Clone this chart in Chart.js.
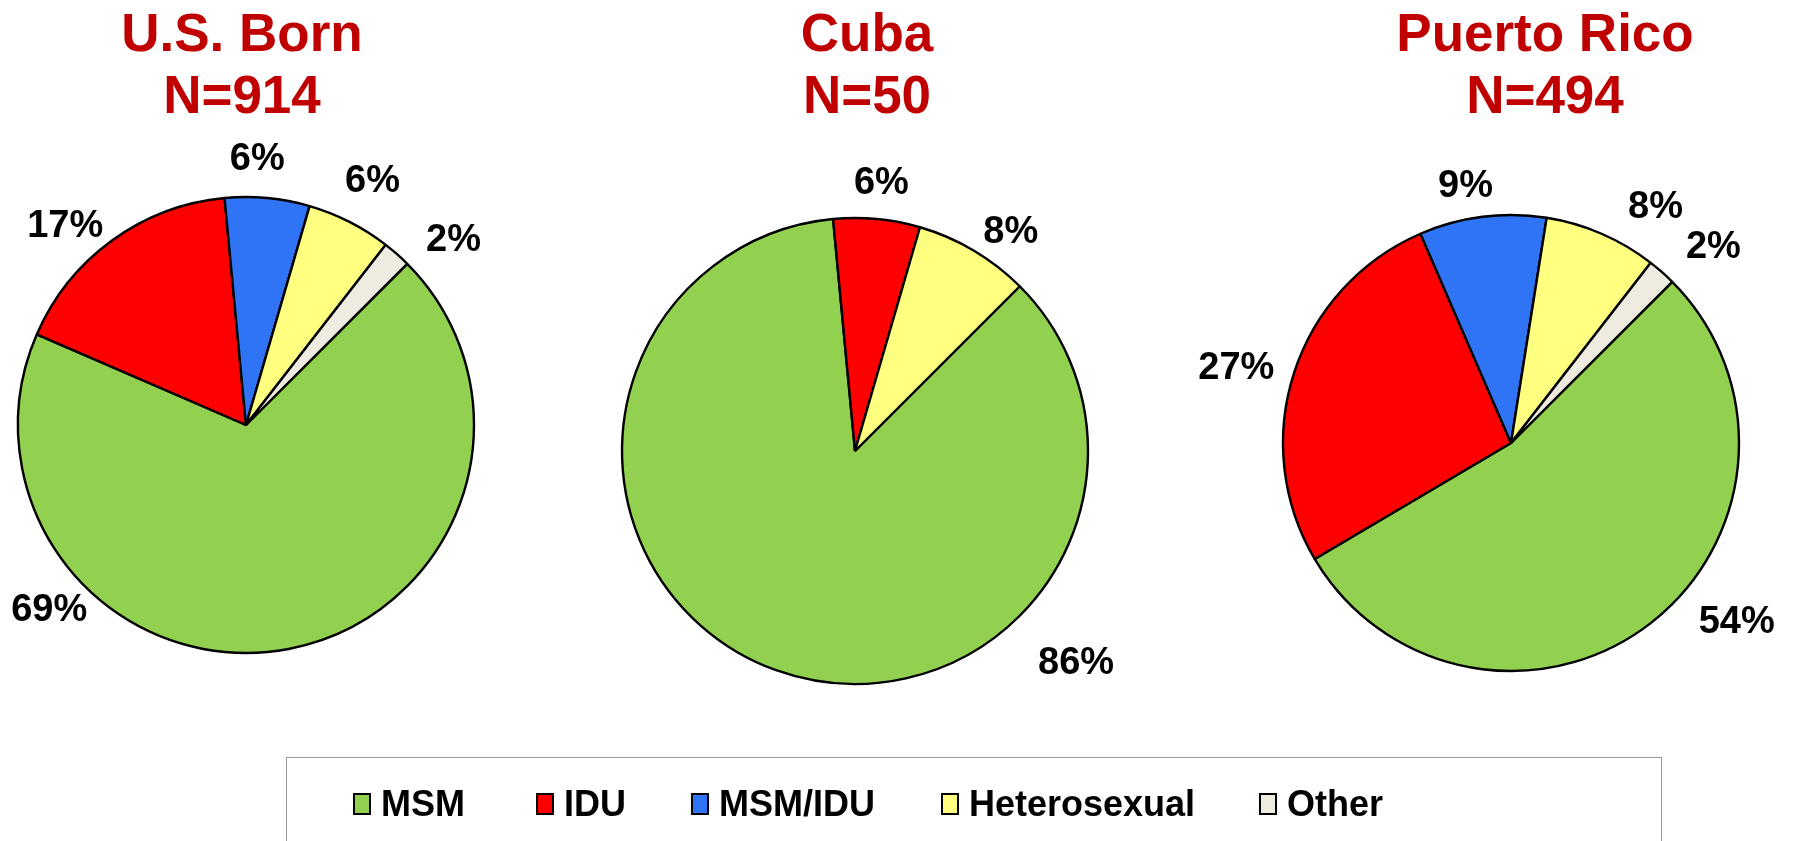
<!DOCTYPE html>
<html>
<head>
<meta charset="utf-8">
<script src="https://cdn.jsdelivr.net/npm/chart.js@4"></script>
<style>
  html, body { margin: 0; padding: 0; background: #fff; }
  #page { position: relative; width: 1794px; height: 841px; overflow: hidden;
          font-family: 'Liberation Sans', Arial, sans-serif; }
  .pie { position: absolute; }
  .title { position: absolute; width: 400px; margin-left: -200px; text-align: center;
           color: #c00000; font-weight: bold; font-size: 53px; line-height: 62px; top: 2px; }
  #legend { position: absolute; left: 286px; top: 757px; width: 1376px; height: 120px;
            border: 1.5px solid #999; box-sizing: border-box; }
  .item { position: absolute; top: 26px; height: 40px; display: flex; align-items: center;
          font-weight: bold; font-size: 36px; color: #000; }
  .swatch { width: 14px; height: 18px; border: 2px solid #000; margin-right: 10px; }
</style>
</head>
<body>
<div id="page">
  <div class="title" style="left:242px">U.S. Born<br>N=914</div>
  <div class="title" style="left:867px">Cuba<br>N=50</div>
  <div class="title" style="left:1545px">Puerto Rico<br>N=494</div>
  <canvas id="usBorn" class="pie" width="700" height="700"></canvas>
  <canvas id="cuba" class="pie" width="700" height="700"></canvas>
  <canvas id="puertoRico" class="pie" width="700" height="700"></canvas>
  <div id="legend"></div>
</div>
<script>
// ── Data ─────────────────────────────────────────────────────────────────────
const CATEGORIES = ['MSM', 'IDU', 'MSM/IDU', 'Heterosexual', 'Other'];
const US_BORN     = [69, 17, 6, 6, 2];
const CUBA        = [86, 6, 0, 8, 0];
const PUERTO_RICO = [54, 27, 9, 8, 2];

// ── Palette ──────────────────────────────────────────────────────────────────
const COLORS = ['#92d050', '#ff0000', '#2e74f4', '#ffff80', '#eeece1'];

// Where each % label sits: [compass angle in degrees, distance as multiple of radius]
const US_LABELS = [[227, 1.18], [318, 1.185], [2.4, 1.176], [27.3, 1.21], [48, 1.225]];
const CUBA_LABELS = [[133.6, 1.31], [5.6, 1.16], null, [35.2, 1.16], null];
const PR_LABELS = [[128.2, 1.26], [285.5, 1.25], [350, 1.15], [31.3, 1.22], [45.7, 1.24]];

const PIE_SIZE = 700;

// ── Outside % labels ─────────────────────────────────────────────────────────
const pctLabels = {
  id: 'pctLabels',
  afterDatasetsDraw(chart, args, opts) {
    const { ctx } = chart;
    const meta = chart.getDatasetMeta(0);
    const values = chart.data.datasets[0].data;
    ctx.save();
    ctx.font = "bold 38px 'Liberation Sans', Arial, sans-serif";
    ctx.fillStyle = '#000';
    ctx.textAlign = 'center';
    ctx.textBaseline = 'middle';
    meta.data.forEach((arc, i) => {
      const pos = opts.positions[i];
      if (!pos) return;
      const a = pos[0] * Math.PI / 180;
      const d = pos[1] * arc.outerRadius;
      ctx.fillText(values[i] + '%', arc.x + d * Math.sin(a), arc.y - d * Math.cos(a) + 2);
    });
    ctx.restore();
  },
};

function createPie(canvasId, values, labelPos, cx, cy, radius) {
  // drop empty categories so no zero-width wedges get stroked
  const keep = values.map((v, i) => i).filter(i => values[i] > 0);
  const canvas = document.getElementById(canvasId);
  canvas.style.left = (cx - PIE_SIZE / 2) + 'px';
  canvas.style.top = (cy - PIE_SIZE / 2) + 'px';

  return new Chart(canvas, {
    type: 'pie',
    data: {
      labels: keep.map(i => CATEGORIES[i]),
      datasets: [{
        data: keep.map(i => values[i]),
        backgroundColor: keep.map(i => COLORS[i]),
        borderColor: '#000',
        borderWidth: 2.4,
        hoverOffset: 0,
      }],
    },
    options: {
      responsive: false,
      animation: false,
      events: [],
      rotation: 45,
      radius: radius,
      layout: { padding: 0 },
      plugins: {
        legend: { display: false },
        title: { display: false },
        tooltip: { enabled: false },
        pctLabels: { positions: keep.map(i => labelPos[i]) },
      },
    },
    plugins: [pctLabels],
  });
}

createPie('usBorn', US_BORN, US_LABELS, 246, 425, 228);
createPie('cuba', CUBA, CUBA_LABELS, 855, 451, 233);
createPie('puertoRico', PUERTO_RICO, PR_LABELS, 1511, 443, 228);

// ── Shared legend ────────────────────────────────────────────────────────────
const LEGEND_X = [66, 249, 404, 654, 972];
const legend = document.getElementById('legend');
CATEGORIES.forEach((name, i) => {
  const item = document.createElement('div');
  item.className = 'item';
  item.style.left = LEGEND_X[i] + 'px';
  item.innerHTML = `<span class="swatch" style="background:${COLORS[i]}"></span>${name}`;
  legend.appendChild(item);
});
</script>
</body>
</html>
